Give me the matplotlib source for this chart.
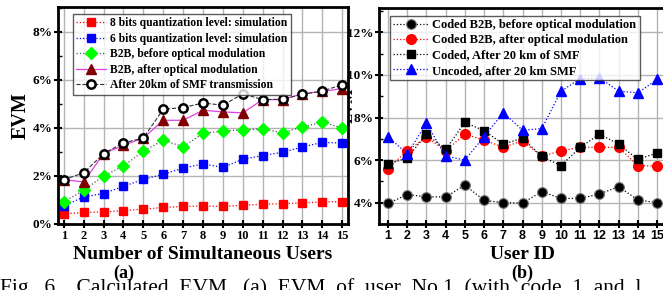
import matplotlib
matplotlib.use("Agg")
import matplotlib.pyplot as plt
import matplotlib.ticker as mticker

# ── data ─────────────────────────────────────────────────────────────────────
users = list(range(1, 16))

# (a) EVM (%) of user No.1 vs number of simultaneous users
bits8 = [0.42, 0.48, 0.50, 0.56, 0.62, 0.69, 0.73, 0.75, 0.73, 0.78, 0.82, 0.85, 0.88, 0.92, 0.93]
bits6 = [0.75, 1.13, 1.27, 1.57, 1.86, 2.07, 2.33, 2.50, 2.36, 2.70, 2.85, 2.99, 3.21, 3.40, 3.37]
b2b_before = [0.92, 1.40, 2.00, 2.42, 3.03, 3.49, 3.22, 3.77, 3.88, 3.92, 3.96, 3.80, 4.04, 4.24, 4.00]
b2b_after = [1.85, 1.75, 2.93, 3.28, 3.58, 4.32, 4.32, 4.74, 4.67, 4.63, 5.18, 5.18, 5.43, 5.52, 5.64]
smf_20km = [1.85, 2.13, 2.93, 3.38, 3.58, 4.78, 4.85, 5.04, 4.95, 5.42, 5.18, 5.20, 5.40, 5.54, 5.80]

# (b) EVM (%) per user ID
coded_b2b_before = [3.97, 4.38, 4.28, 4.27, 4.82, 4.11, 4.00, 3.98, 4.52, 4.20, 4.20, 4.41, 4.75, 4.13, 4.00]
coded_b2b_after = [5.60, 6.44, 7.07, 6.44, 7.22, 6.94, 6.60, 6.91, 6.17, 6.44, 6.60, 6.60, 6.60, 5.74, 5.72]
coded_smf = [5.82, 6.10, 7.22, 6.50, 7.77, 7.38, 6.75, 7.03, 6.17, 5.74, 6.60, 7.22, 6.75, 6.03, 6.34]
uncoded_smf = [7.10, 6.30, 7.72, 6.19, 6.00, 7.10, 8.23, 7.40, 7.48, 9.24, 9.82, 9.87, 9.24, 9.16, 9.79]

SERIF = ["Liberation Serif", "DejaVu Serif"]
SANS = ["Liberation Sans", "DejaVu Sans"]
GRID = "#b4b4b4"


def style_axes(ax, xfam):
    for s in ax.spines.values():
        s.set_linewidth(2.0)
    ax.set_xticks(users)
    ax.yaxis.set_major_locator(mticker.MultipleLocator(2))
    ax.yaxis.set_minor_locator(mticker.MultipleLocator(1))
    ax.yaxis.set_major_formatter(mticker.FuncFormatter(lambda v, p: f"{v:.0f}%"))
    ax.tick_params(axis="both", which="major", direction="inout", length=6, width=1.5, pad=1)
    ax.tick_params(axis="y", which="minor", direction="in", length=3, width=1)
    ax.grid(True, which="major", color=GRID, linewidth=1.0)
    ax.set_axisbelow(True)
    for lab in ax.get_yticklabels():
        lab.set_fontfamily(SERIF)
        lab.set_fontweight("bold")
        lab.set_fontsize(9.5)
    for lab in ax.get_xticklabels():
        lab.set_fontfamily(xfam)
        lab.set_fontweight("bold")
        lab.set_fontsize(9)


fig = plt.figure(figsize=(6.63, 2.90), dpi=100)

# right panel first, so the left panel covers part of its "EVM" label
axb = fig.add_axes([0.5716, 0.2276, 0.434, 0.7438])
axa = fig.add_axes([0.0875, 0.2276, 0.4374, 0.7483])

# ── (a) ──────────────────────────────────────────────────────────────────────
axa.plot(users, bits8, ls=":", lw=0.9, color="red", marker="s", ms=6,
         mfc="red", mec="red", label="8 bits quantization level: simulation")
axa.plot(users, bits6, ls=":", lw=0.9, color="blue", marker="s", ms=6,
         mfc="blue", mec="blue", label="6 bits quantization level: simulation")
axa.plot(users, b2b_before, ls=":", lw=0.9, color="#555555", marker="D", ms=6,
         mfc="#00ff00", mec="#00ff00", label="B2B, before optical modulation")
axa.plot(users, b2b_after, ls="-", lw=0.9, color="#e040e0", marker="^", ms=7,
         mfc="#800000", mec="#800000", label="B2B, after optical modulation")
axa.plot(users, smf_20km, ls="--", lw=0.8, color="#333333", marker="o", ms=6,
         mfc="white", mec="black", mew=1.8, label="After 20km of SMF transmission")

axa.set_xlim(0.71, 15.29)
axa.set_ylim(0, 9.04)
style_axes(axa, SERIF)
axa.set_ylabel("EVM", fontfamily=SERIF, fontweight="bold", fontsize=14.5)
axa.yaxis.set_label_coords(-0.095, 0.5)
axa.set_xlabel("Number of Simultaneous Users", fontfamily=SERIF, fontweight="bold",
               fontsize=14, labelpad=3)
leg = axa.legend(loc="upper left", bbox_to_anchor=(0.03, 0.995), frameon=True,
                 fancybox=False, edgecolor="#333333", borderpad=0.3,
                 labelspacing=0.3, handlelength=2.6, handletextpad=0.3,
                 prop={"family": SERIF, "weight": "bold", "size": 8.4})
leg.get_frame().set_linewidth(1.0)

# ── (b) ──────────────────────────────────────────────────────────────────────
axb.plot(users, coded_b2b_before, ls=":", lw=0.9, color="black", marker="o", ms=7,
         mfc="black", mec="#777777", mew=0.8, label="Coded B2B, before optical modulation")
axb.plot(users, coded_b2b_after, ls=":", lw=0.9, color="red", marker="o", ms=7,
         mfc="red", mec="red", label="Coded B2B, after optical modulation")
axb.plot(users, coded_smf, ls=":", lw=0.9, color="black", marker="s", ms=6,
         mfc="black", mec="black", label="Coded, After 20 km of SMF")
axb.plot(users, uncoded_smf, ls=":", lw=0.9, color="blue", marker="^", ms=7,
         mfc="blue", mec="blue", label="Uncoded, after 20 km SMF")

axb.set_xlim(0.53, 15.5)
axb.set_ylim(3, 13.13)
style_axes(axb, SANS)
axb.set_ylabel("EVM", fontfamily=SERIF, fontweight="bold", fontsize=11)
axb.yaxis.set_label_coords(-0.08, 0.55)
axb.set_xlabel("User ID", fontfamily=SERIF, fontweight="bold", fontsize=14, labelpad=3)
leg = axb.legend(loc="upper left", bbox_to_anchor=(0.015, 0.995), frameon=True,
                 fancybox=False, edgecolor="#333333", borderpad=0.3,
                 labelspacing=0.25, handlelength=2.8, handletextpad=0.3,
                 prop={"family": SERIF, "weight": "bold", "size": 9})
leg.get_frame().set_linewidth(1.0)

# ── panel tags and clipped caption ───────────────────────────────────────────
fig.text(0.186, 0.058, "(a)", fontfamily=SERIF, fontweight="bold", fontsize=13,
         ha="center", va="center")
fig.text(0.787, 0.058, "(b)", fontfamily=SERIF, fontweight="bold", fontsize=13,
         ha="center", va="center")
fig.text(0.0, 0.04, "Fig.  6.   Calculated  EVM.  (a)  EVM  of  user  No.1  (with  code  1  and  l",
         fontfamily=SERIF, fontsize=15.5, ha="left", va="top")

fig.savefig("out.png", dpi=100)
